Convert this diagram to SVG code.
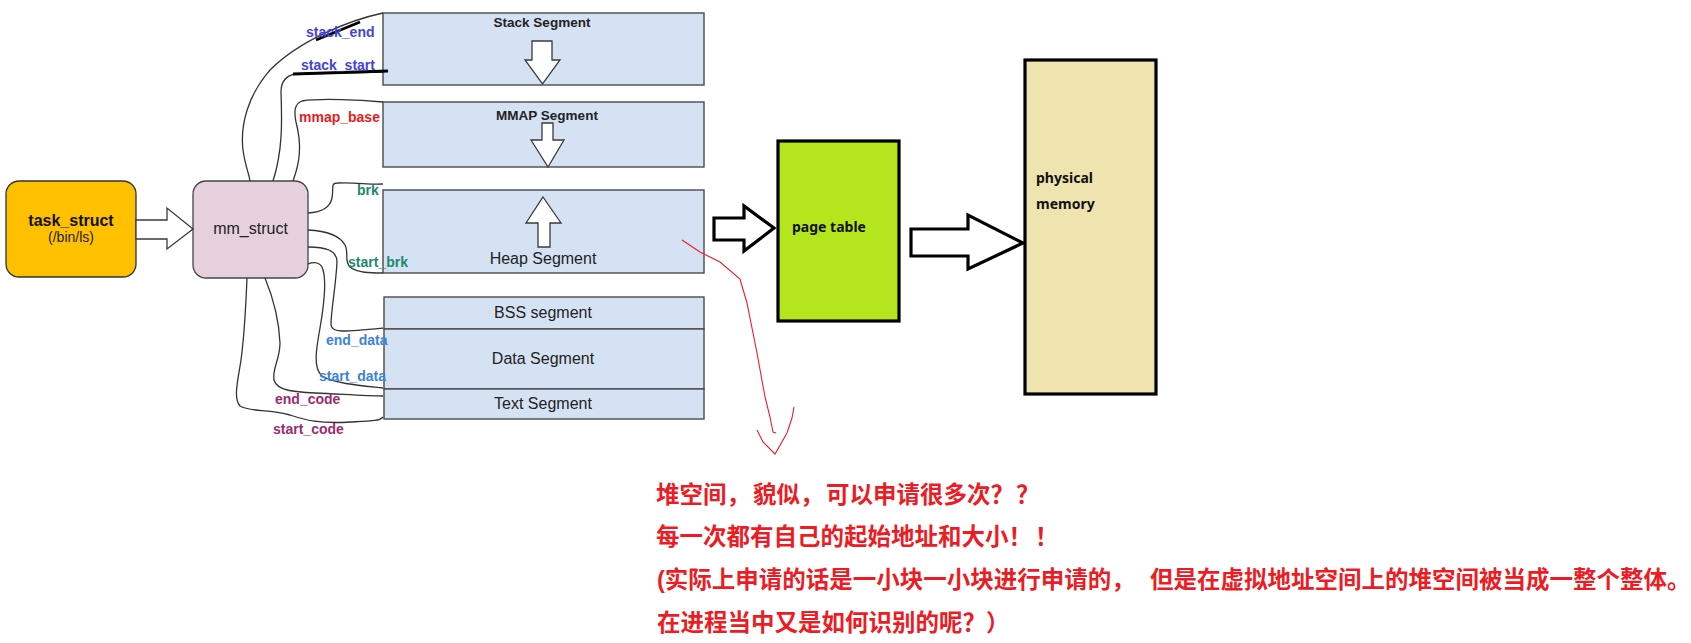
<svg xmlns="http://www.w3.org/2000/svg" width="1691" height="643" viewBox="0 0 1691 643">
<style>
.seg{fill:#D5E2F3;stroke:#4a4a4a;stroke-width:1.4}
.arr{fill:#fff;stroke:#3a3a3a;stroke-width:1.3;stroke-linejoin:miter}
.barr{fill:#fff;stroke:#000;stroke-width:3.2;stroke-linejoin:miter}
.lbl{font-family:"Liberation Sans",Arial,sans-serif;font-size:14px;font-weight:bold}
.segt{font-family:"Liberation Sans",Arial,sans-serif;font-size:16px;fill:#222;text-anchor:middle}
.segb{font-family:"Liberation Sans",Arial,sans-serif;font-size:13.5px;font-weight:bold;fill:#222;text-anchor:middle}
.con{fill:none;stroke:#333;stroke-width:1.3}
.pt{font-family:"Noto Sans","Liberation Sans",sans-serif;font-size:14px;font-weight:bold;fill:#111}
.cn{font-family:"Liberation Sans","Noto Sans CJK SC",sans-serif;font-size:23.5px;font-weight:bold;fill:#ED1C24}
</style>
<rect width="1691" height="643" fill="#fff"/>

<g id="task_struct">
<rect x="6" y="181" width="130" height="96" rx="13" fill="#FFC000" stroke="#333" stroke-width="1.3"/>
<text x="71" y="226" font-family="Liberation Sans,Arial,sans-serif" font-size="16" font-weight="bold" fill="#111" text-anchor="middle">task_struct</text>
<text x="71" y="242" font-family="Liberation Sans,Arial,sans-serif" font-size="14" fill="#222" text-anchor="middle">(/bin/ls)</text>
</g>

<g id="mm_struct">
<rect x="193" y="181" width="115" height="97" rx="13" fill="#E6D0DE" stroke="#444" stroke-width="1.3"/>
<text x="250.5" y="234" font-family="Liberation Sans,Arial,sans-serif" font-size="16" fill="#222" text-anchor="middle">mm_struct</text>
</g>

<g id="stack_segment">
<rect class="seg" x="383" y="13" width="321" height="72"/>
<text class="segb" x="542" y="27">Stack Segment</text>
<polygon class="arr" points="532,41 552,41 552,60 560,60 542.5,84 525,60 532,60"/>
</g>

<g id="mmap_segment">
<rect class="seg" x="383" y="102" width="321" height="65"/>
<text class="segb" x="547" y="120">MMAP Segment</text>
<polygon class="arr" points="542,123 553,123 553,140 564,140 548,167 531,140 542,140"/>
</g>

<g id="heap_segment">
<rect class="seg" x="383" y="190" width="321" height="83"/>
<polygon class="arr" points="543,197 561,223 550,223 550,247 538,247 538,223 526,223"/>
<text class="segt" x="543" y="264">Heap Segment</text>
</g>

<g id="bss_segment">
<rect class="seg" x="384" y="297" width="320" height="32"/>
<text class="segt" x="543" y="318">BSS segment</text>
</g>
<g id="data_segment">
<rect class="seg" x="384" y="329" width="320" height="60"/>
<text class="segt" x="543" y="364">Data Segment</text>
</g>
<g id="text_segment">
<rect class="seg" x="384" y="389" width="320" height="30"/>
<text class="segt" x="543" y="409">Text Segment</text>
</g>

<g id="page_table">
<rect x="778" y="141" width="121" height="180" fill="#B5E61D" stroke="#000" stroke-width="3.2"/>
<text class="pt" x="792" y="232">page table</text>
</g>

<g id="physical_memory">
<rect x="1025" y="60" width="131" height="334" fill="#EFE4B0" stroke="#000" stroke-width="3.2"/>
<text class="pt" x="1036" y="183">physical</text>
<text class="pt" x="1036" y="209">memory</text>
</g>

<g id="connectors">
<polygon class="arr" points="136,220 167,220 167,208 193,229 167,249 167,239 136,239"/>
<polygon class="barr" points="714,218 744,218 744,206 774,228 744,251 744,240 714,240"/>
<polygon class="barr" points="911,229 968,229 968,215 1023,243 968,269 968,256 911,256"/>
<path class="con" d="M383,13 C350,20 300,40 270,70 C248,95 240,125 243,150 C245,165 249,174 250,181"/>
<path class="con" d="M383,72 L295,74 C285,76 281,82 281,92 C282,120 283,150 273,181"/>
<path class="con" d="M383,102 C360,100 320,98 302,101 C294,104 294,112 296,122 C302,145 300,162 293,181"/>
<path class="con" d="M308,213 C322,212 330,208 332,198 C334,188 330,183 338,183 C355,182 370,185 383,184"/>
<path class="con" d="M308,230 C328,231 340,236 345,245 C349,252 344,262 350,267 C358,273 370,273 383,273"/>
<path class="con" d="M308,247 C325,247 337,250 337,262 C336,285 331,310 331,325 C332,333 342,332 383,328"/>
<path class="con" d="M308,264 C313,262 319,262 322,267 C327,278 324,305 320,328 C316,350 313,368 322,376 C335,384 365,386 383,388"/>
<path class="con" d="M265,278 C272,295 279,320 280,343 C280,360 272,368 274,380 C277,391 295,392 315,393 C340,394 365,396 383,396"/>
<path class="con" d="M247,278 C246,300 245,330 241,360 C238,380 233,398 240,406 C250,412 268,409 290,415 C305,420 320,424 350,422 C372,421 380,421 383,417"/>
<path d="M316,40 L360,22" stroke="#000" stroke-width="2.8" fill="none"/>
<path d="M293,74 L388,71" stroke="#000" stroke-width="2.8" fill="none"/>
<path d="M682,240 L700,252 L720,262 L740,279 L747,303 L757,353 L765,397 L770,417 L773,432 L776,433" stroke="#ED1C24" stroke-width="1.1" fill="none"/>
<path d="M757,430 L763,442 L775,454 L787,433 L792,418 L794,407" stroke="#ED1C24" stroke-width="1.1" fill="none"/>
</g>

<g id="labels">
<text class="lbl" x="306" y="37" fill="#4343D9">stack_end</text>
<text class="lbl" x="301" y="70" fill="#4343D9">stack_start</text>
<text class="lbl" x="299" y="122" fill="#E62020">mmap_base</text>
<text class="lbl" x="357" y="195" fill="#1B8A6B">brk</text>
<text class="lbl" x="348" y="267" fill="#1B8A6B">start_brk</text>
<text class="lbl" x="326" y="345" fill="#3B82DE">end_data</text>
<text class="lbl" x="319" y="381" fill="#3B82DE">start_data</text>
<text class="lbl" x="275" y="404" fill="#9B2C6E">end_code</text>
<text class="lbl" x="273" y="434" fill="#9B2C6E">start_code</text>
</g>

<g id="note">
<text class="cn" y="503"><tspan x="656">堆空间，</tspan><tspan x="753">貌似，</tspan><tspan x="826">可以申请很多次？</tspan><tspan x="1016">？</tspan></text>
<text class="cn" y="545"><tspan x="656">每一次都有自己的起始地址和大小！</tspan><tspan x="1035">！</tspan></text>
<text class="cn" y="588"><tspan x="657">(实际上申请的话是一小块一小块进行申请的，</tspan><tspan x="1150">但是在虚拟地址空间上的堆空间被当成一整个整体。</tspan></text>
<text class="cn" y="631" x="657">在进程当中又是如何识别的呢？）</text>
</g>
</svg>
